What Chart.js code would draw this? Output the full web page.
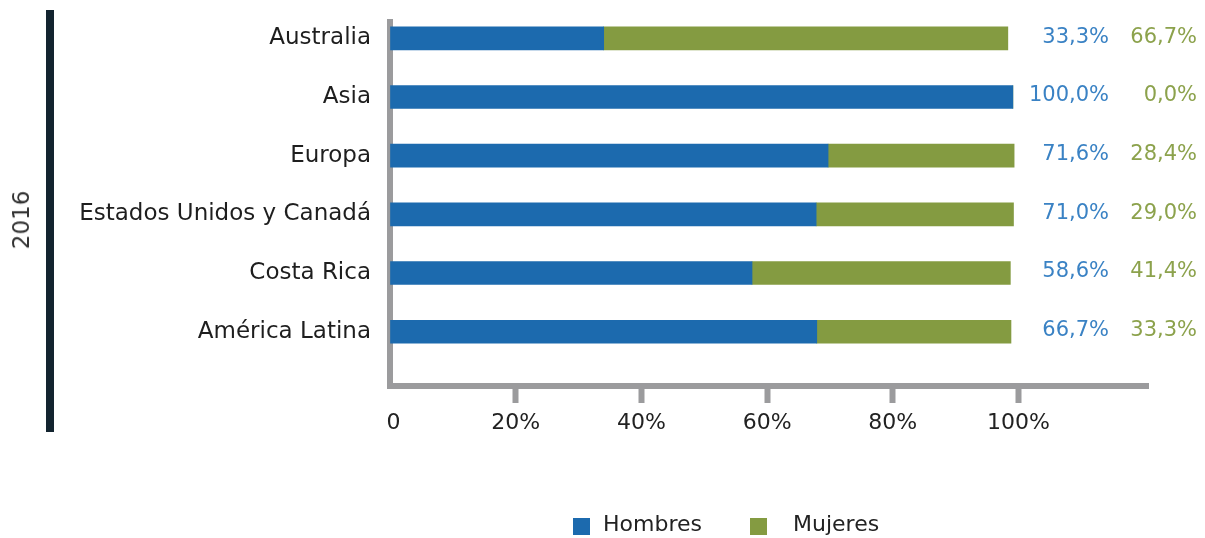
<!DOCTYPE html>
<html>
<head>
<meta charset="utf-8">
<script src="https://cdn.jsdelivr.net/npm/chart.js@4"></script>
<style>
  html, body { margin: 0; padding: 0; background: #fff; }
  #wrap { position: relative; width: 1205px; height: 538px; font-family: 'DejaVu Sans', sans-serif; }
  #chart { position: absolute; left: 0; top: 0; }
  #rule { position: absolute; left: 46px; top: 10px; width: 8px; height: 422px; background: #13242f; }
  #year { position: absolute; left: 21px; top: 220px; transform: translate(-50%, -50%) rotate(-90deg);
          font-size: 23px; color: #333; white-space: nowrap; }
  .sq { position: absolute; top: 518px; width: 17px; height: 17px; }
  .leg { position: absolute; top: 511px; font-size: 22px; line-height: 26px; color: #222; white-space: nowrap; }
</style>
</head>
<body>
<div id="wrap">
  <canvas id="chart" width="1205" height="538"></canvas>
  <div id="rule"></div>
  <div id="year">2016</div>
  <div class="sq" style="left:573px; background:#1c6aae"></div>
  <div class="leg" style="left:603px">Hombres</div>
  <div class="sq" style="left:750px; background:#849b41"></div>
  <div class="leg" style="left:793px">Mujeres</div>
</div>
<script>
// categorías (de arriba hacia abajo)
const categories = ['Australia', 'Asia', 'Europa', 'Estados Unidos y Canadá', 'Costa Rica', 'América Latina'];

// largo de las barras tal como aparecen en el gráfico (%)
const hombresBar = [34.0, 99.1, 69.7, 67.8, 57.6, 67.9];
const mujeresBar = [64.3, 0, 29.6, 31.4, 41.1, 30.9];

// porcentajes rotulados a la derecha
const hombresPct = [33.3, 100.0, 71.6, 71.0, 58.6, 66.7];
const mujeresPct = [66.7, 0.0, 28.4, 29.0, 41.4, 33.3];

// marcas del eje x
const xTicks = [0, 20, 40, 60, 80, 100];

const blue = '#1c6aae';
const green = '#849b41';
const blueText = '#3a82c4';
const greenText = '#8ca24c';
const axisGray = '#9b9b9d';

Chart.defaults.font.family = "'DejaVu Sans', sans-serif";

function fmt(v) {
    return v.toFixed(1).replace('.', ',') + '%';
}

// sin relleno extra alrededor de los ejes
function noPadding(s) {
    s.paddingTop = 0;
    s.paddingBottom = 0;
    s.paddingLeft = 0;
    s.paddingRight = 0;
}

// rótulos de porcentaje a la derecha de cada barra
const valueLabels = {
    id: 'valueLabels',
    afterDatasetsDraw(chart) {
        const { ctx, chartArea, scales: { y } } = chart;
        ctx.save();
        ctx.font = "21px 'DejaVu Sans'";
        ctx.textAlign = 'right';
        ctx.textBaseline = 'middle';
        categories.forEach((c, i) => {
            const py = y.getPixelForValue(i) - 1;
            ctx.fillStyle = blueText;
            ctx.fillText(fmt(hombresPct[i]), chartArea.right - 39, py);
            ctx.fillStyle = greenText;
            ctx.fillText(fmt(mujeresPct[i]), chartArea.right + 49, py);
        });
        ctx.restore();
    }
};

const ctx = document.getElementById('chart').getContext('2d');
new Chart(ctx, {
    type: 'bar',
    data: {
        datasets: [{
            label: 'Hombres',
            data: hombresBar.map((v, i) => ({ x: v, y: i })),
            backgroundColor: blue,
            barThickness: 23
        }, {
            label: 'Mujeres',
            data: mujeresBar.map((v, i) => ({ x: v, y: i })),
            backgroundColor: green,
            barThickness: 23
        }]
    },
    options: {
        indexAxis: 'y',
        responsive: false,
        animation: false,
        layout: { padding: { top: 22, right: 57, bottom: 0, left: 0 } },
        plugins: {
            legend: { display: false },
            tooltip: { enabled: false }
        },
        scales: {
            x: {
                type: 'linear',
                stacked: true,
                min: 0,
                max: 120.6,
                afterBuildTicks: s => { s.ticks = xTicks.map(v => ({ value: v })); },
                afterFit: s => { s.height = 152; noPadding(s); },
                grid: {
                    display: true,
                    drawOnChartArea: false,
                    drawTicks: true,
                    tickLength: 17,
                    tickWidth: 6,
                    tickColor: c => (c.tick && c.tick.value === 0) ? 'rgba(0,0,0,0)' : axisGray
                },
                border: { display: true, color: axisGray, width: 6 },
                ticks: {
                    padding: 7,
                    color: '#222',
                    font: { size: 22 },
                    maxRotation: 0,
                    autoSkip: false,
                    callback: v => v === 0 ? ' 0' : v + '%'
                }
            },
            y: {
                type: 'linear',
                stacked: true,
                reverse: true,
                offset: false,
                min: -0.278,
                max: 5.925,
                z: 1,
                afterBuildTicks: s => { s.ticks = categories.map((c, i) => ({ value: i })); },
                afterFit: s => { s.width = 390; noPadding(s); },
                grid: { display: true, offset: false, drawOnChartArea: false, drawTicks: false },
                border: { display: true, color: axisGray, width: 6 },
                ticks: {
                    padding: 19,
                    color: '#1e1e1e',
                    font: { size: 23 },
                    autoSkip: false,
                    callback: v => categories[v] !== undefined ? categories[v] : ''
                }
            }
        }
    },
    plugins: [valueLabels]
});
</script>
</body>
</html>
